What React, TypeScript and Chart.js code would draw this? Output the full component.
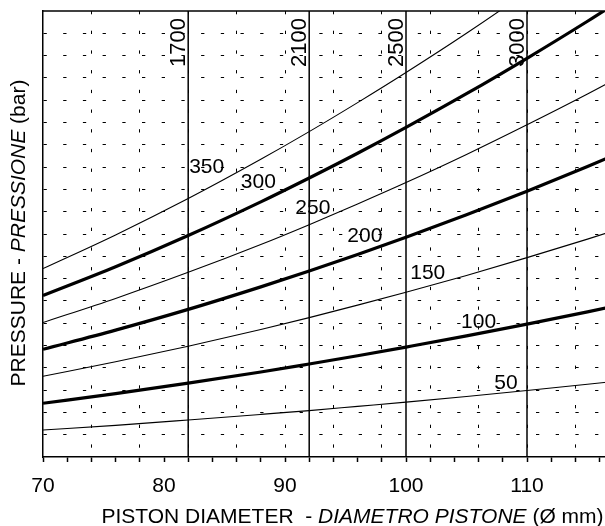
import React, { useEffect, useRef } from 'react';
import { Chart, registerables } from 'chart.js';

Chart.register(...registerables);

// ---- data (y in grid divisions) ----
const diameters = [70, 76, 82, 88, 92, 96, 100, 105, 110, 115, 120];
const pressureLabels = ['50', '100', '150', '200', '250', '300', '350'];
const series50 = [1.21, 1.42, 1.66, 1.91, 2.08, 2.27, 2.46, 2.71, 2.98, 3.26, 3.55];
const series100 = [2.41, 2.84, 3.31, 3.81, 4.17, 4.54, 4.93, 5.43, 5.96, 6.51, 7.09];
const series150 = [3.62, 4.27, 4.97, 5.72, 6.25, 6.81, 7.39, 8.14, 8.94, 9.77, 10.64];
const series200 = [4.83, 5.69, 6.62, 7.63, 8.34, 9.08, 9.85, 10.86, 11.92, 13.03, 14.18];
const series250 = [6.03, 7.11, 8.28, 9.53, 10.42, 11.35, 12.31, 13.57, 14.9, 16.28, 17.73];
const series300 = [7.24, 8.53, 9.93, 11.44, 12.51, 13.62, 14.78, 16.29, 17.88, 19.54, 21.28];
const series350 = [8.45, 9.96, 11.59, 13.35, 14.59, 15.89, 17.24, 19.0, 20.86, 22.8, 24.82];
const allSeries = [series50, series100, series150, series200, series250, series300, series350];
const thickSeries = ['100', '200', '300'];

// curve label anchors (data coords: centre x, baseline y)
const curveLabelX = [108.26, 106.0, 101.8, 96.6, 92.3, 87.8, 83.53];
const curveLabelY = [3.07, 5.8, 7.97, 9.63, 10.88, 12.05, 12.72];

// vertical reference lines
const refLineX = [82, 92, 100, 110];
const refLineLabels = ['1700', '2100', '2500', '3000'];

const xMin = 70;
const xMax = 120;
const yMin = 0;
const yMax = 20;
const xLabelMaxShown = 110;

const FAMILY = '"Liberation Sans", Arial, sans-serif';
const GRID_DASH = [3.3, 16.4];

const annotationPlugin = {
  id: 'annotations',
  afterDatasetsDraw(chart: any) {
    const { ctx, chartArea, scales } = chart;
    const xs = scales.x;
    const ys = scales.y;
    ctx.save();
    // top frame line
    ctx.setLineDash([]);
    ctx.strokeStyle = '#000';
    ctx.lineWidth = 1.5;
    ctx.beginPath();
    ctx.moveTo(chartArea.left, chartArea.top);
    ctx.lineTo(chartArea.right, chartArea.top);
    ctx.stroke();

    ctx.fillStyle = '#000';
    // curve labels
    ctx.font = `21px ${FAMILY}`;
    ctx.textAlign = 'center';
    ctx.textBaseline = 'alphabetic';
    pressureLabels.forEach((t, i) => {
      ctx.fillText(t, xs.getPixelForValue(curveLabelX[i]), ys.getPixelForValue(curveLabelY[i]));
    });

    // rotated labels of the reference lines
    ctx.font = `22px ${FAMILY}`;
    refLineX.forEach((v, i) => {
      ctx.save();
      ctx.translate(xs.getPixelForValue(v) - 3, chartArea.top + 7);
      ctx.rotate(-Math.PI / 2);
      ctx.textAlign = 'right';
      ctx.textBaseline = 'alphabetic';
      ctx.fillText(refLineLabels[i], 0, 0);
      ctx.restore();
    });

    const normal = `21px ${FAMILY}`;
    const italic = `italic 21px ${FAMILY}`;
    const drawSegs = (segs: { t: string; f: string }[], cx: number, cy: number, rot: boolean) => {
      const widths = segs.map((s) => {
        ctx.font = s.f;
        return ctx.measureText(s.t).width;
      });
      const total = widths.reduce((a, b) => a + b, 0);
      ctx.save();
      ctx.translate(cx, cy);
      if (rot) ctx.rotate(-Math.PI / 2);
      ctx.textAlign = 'left';
      ctx.textBaseline = 'alphabetic';
      let x = -total / 2;
      segs.forEach((s, i) => {
        ctx.font = s.f;
        ctx.fillText(s.t, x, 0);
        x += widths[i];
      });
      ctx.restore();
    };

    // x title
    drawSegs(
      [
        { t: 'PISTON DIAMETER  - ', f: normal },
        { t: 'DIAMETRO PISTONE', f: italic },
        { t: ' (Ø mm)', f: normal },
      ],
      (chartArea.left + chartArea.right) / 2 + 7,
      chartArea.bottom + 66,
      false
    );
    // y title
    drawSegs(
      [
        { t: 'PRESSURE - ', f: normal },
        { t: 'PRESSIONE', f: italic },
        { t: ' (bar)', f: normal },
      ],
      25,
      (chartArea.top + chartArea.bottom) / 2 - 1,
      true
    );
    ctx.restore();
  },
};

export default function App() {
  const canvasRef = useRef<HTMLCanvasElement | null>(null);

  useEffect(() => {
    if (!canvasRef.current) return;
    const curveSets = allSeries.map((s, i) => ({
      label: pressureLabels[i],
      data: diameters.map((d, j) => ({ x: d, y: s[j] })),
      borderColor: '#000',
      borderWidth: thickSeries.includes(pressureLabels[i]) ? 3.2 : 1.1,
      pointRadius: 0,
      fill: false,
      cubicInterpolationMode: 'monotone',
      clip: 0,
    }));
    const refSets = refLineX.map((v, i) => ({
      label: refLineLabels[i],
      data: [
        { x: v, y: yMin },
        { x: v, y: yMax },
      ],
      borderColor: '#000',
      borderWidth: 1.5,
      pointRadius: 0,
      fill: false,
      clip: 0,
    }));

    const chart = new Chart(canvasRef.current, {
      type: 'line',
      data: { datasets: [...refSets, ...curveSets] as any },
      plugins: [annotationPlugin],
      options: {
        animation: false,
        responsive: false,
        devicePixelRatio: 1,
        layout: { padding: { top: 11, right: 3, left: 0, bottom: 0 } },
        plugins: { legend: { display: false }, tooltip: { enabled: false } },
        scales: {
          x: {
            type: 'linear',
            min: xMin,
            max: xMax,
            afterFit: (scale: any) => {
              scale.height = 69;
            },
            ticks: {
              stepSize: 2,
              autoSkip: false,
              maxRotation: 0,
              padding: 12,
              color: '#000',
              font: { family: FAMILY, size: 21 },
              callback: (v: any) => {
                const n = Math.round(Number(v));
                return n % 10 === 0 && n <= xLabelMaxShown ? String(n) : '';
              },
            },
            grid: {
              color: (c: any) => {
                const n = Math.round(c.tick ? c.tick.value : -1);
                return n > xMin && n % 4 === 2 ? '#000' : 'rgba(0,0,0,0)';
              },
              lineWidth: 1,
              drawTicks: true,
              tickLength: 5,
              tickColor: '#000',
              tickWidth: 1.5,
              tickBorderDash: [],
            },
            border: { display: true, color: '#000', width: 1.5, dash: GRID_DASH },
          },
          y: {
            type: 'linear',
            min: yMin,
            max: yMax,
            afterFit: (scale: any) => {
              scale.width = 43;
            },
            ticks: { display: false, stepSize: 1 },
            grid: {
              color: (c: any) => {
                const n = Math.round(c.tick ? c.tick.value : -1);
                return n > yMin && n < yMax ? '#000' : 'rgba(0,0,0,0)';
              },
              lineWidth: 1,
              drawTicks: false,
            },
            border: { display: true, color: '#000', width: 1.5, dash: GRID_DASH },
          },
        },
      } as any,
    });
    return () => chart.destroy();
  }, []);

  return (
    <div
      style={{
        position: 'absolute',
        left: 0,
        top: 0,
        width: 605,
        height: 526,
        overflow: 'hidden',
        background: '#fff',
      }}
    >
      <canvas ref={canvasRef} width={660} height={526} style={{ display: 'block' }} />
    </div>
  );
}
